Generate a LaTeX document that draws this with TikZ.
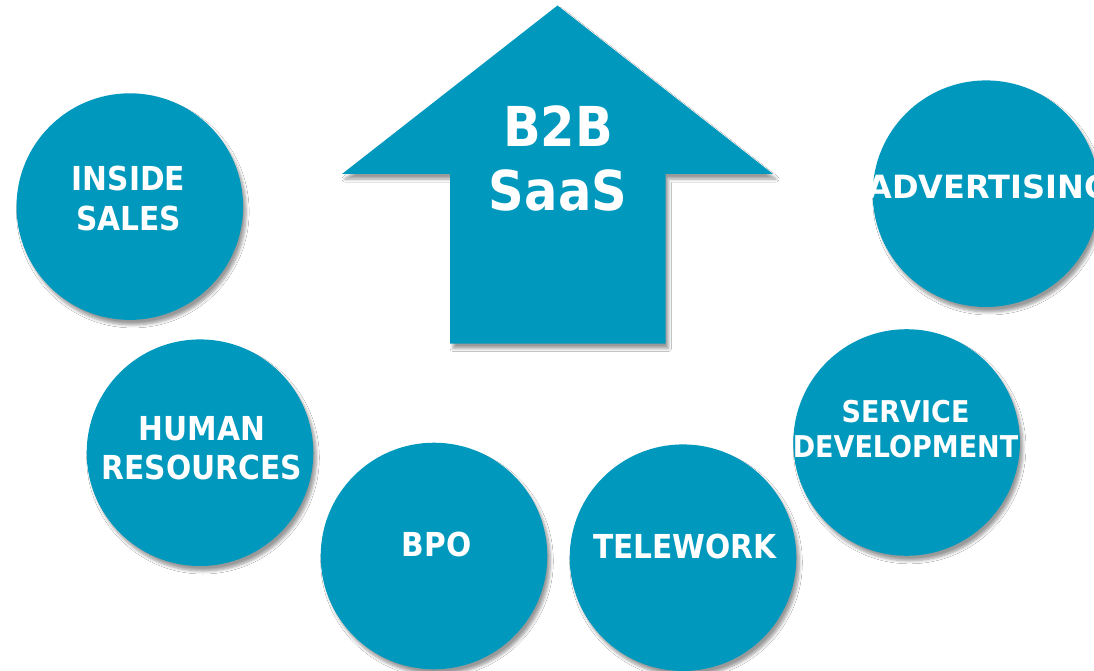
\documentclass[tikz,border=0pt]{standalone}
\usepackage{fontspec}
\newfontfamily\lblfont{DejaVu Sans Bold}[FakeStretch=0.9]
\newfontfamily\widefont{DejaVu Sans Bold}
\usetikzlibrary{shadows.blur}
\definecolor{teal}{RGB}{0,153,189}
\tikzset{
  shad/.style={blur shadow={shadow xshift=3pt, shadow yshift=-5pt, shadow blur radius=3pt, shadow blur steps=6, shadow opacity=40}},
  bubble/.style={circle, fill=teal, draw=none, minimum size=226.6pt, inner sep=0pt, shad},
  lbl/.style={text=white, align=center, inner sep=0pt, font=\lblfont\fontsize{33}{40}\selectfont},
}
\begin{document}
\begin{tikzpicture}[x=1pt, y=-1pt]
\clip (0,0) rectangle (1094,671);
\fill[white] (0,0) rectangle (1094,671);
% arrow
\path[fill=teal, shad] (557.5,5.5) -- (773,174) -- (665.5,174) -- (665.5,343.5) -- (450,343.5) -- (450,174) -- (342,174) -- cycle;
\node[lbl, font=\lblfont\fontsize{55}{64}\selectfont] (saas) at (558,158.7) {B2B\\SaaS};
% circles
\node[bubble] (inside) at (129.8,206.6) {};
\node[bubble] (adv) at (986,193.7) {};
\node[bubble] (human) at (200,452.7) {};
\node[bubble] (serv) at (906.6,442.5) {};
\node[bubble] (bpo) at (434,556) {};
\node[bubble] (tele) at (683,557.7) {};
% labels
\node[lbl, font=\lblfont\fontsize{33}{40}\selectfont] (tinside) at (128.5,198) {INSIDE\\SALES};
\node[lbl, font=\widefont\fontsize{32}{40}\selectfont] (tadv) at (989,186.7) {ADVERTISING};
\node[lbl, font=\lblfont\fontsize{33}{39}\selectfont] (thuman) at (201.7,448.7) {HUMAN\\RESOURCES};
\node[lbl, font=\lblfont\fontsize{30}{35}\selectfont] (tserv) at (905.5,429) {SERVICE\\DEVELOPMENT};
\node[lbl] (tbpo) at (436.7,544.7) {BPO};
\node[lbl] (ttele) at (685,546) {TELEWORK};
\end{tikzpicture}
\end{document}
